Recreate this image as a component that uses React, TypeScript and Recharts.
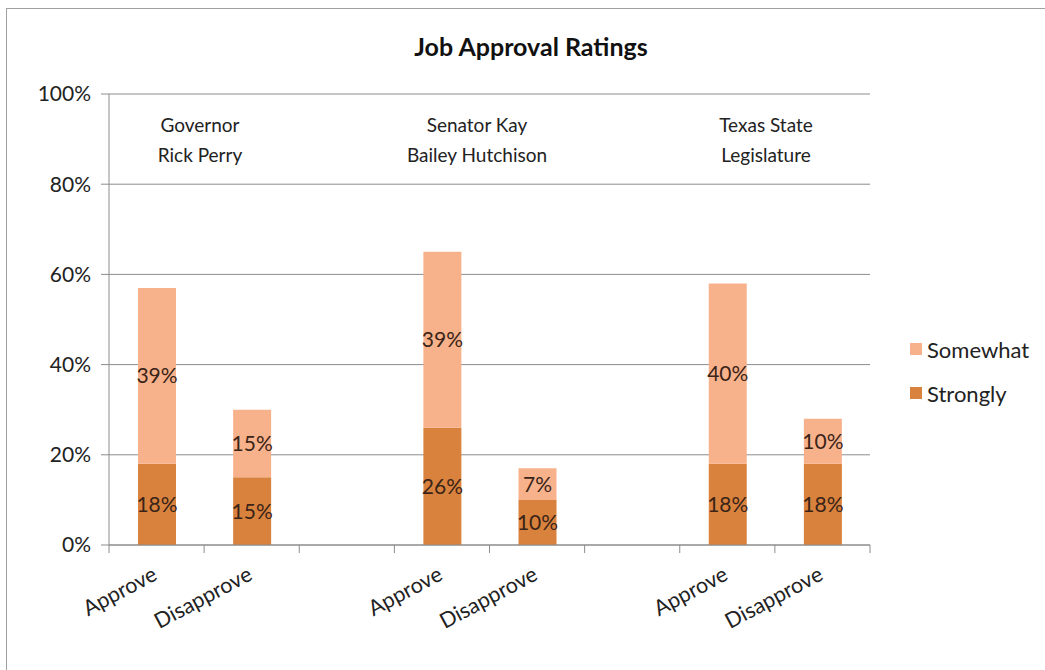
import React from 'react';
import { BarChart, Bar, XAxis, YAxis, CartesianGrid, LabelList } from 'recharts';

const categories = ['Approve', 'Disapprove', '', 'Approve', 'Disapprove', '', 'Approve', 'Disapprove'];
const strongly = [18, 15, null, 26, 10, null, 18, 18];
const somewhat = [39, 15, null, 39, 7, null, 40, 10];
const yTicks = [0, 20, 40, 60, 80, 100];
const groups = [
  { lines: ['Governor', 'Rick Perry'], x: 200 },
  { lines: ['Senator Kay', 'Bailey Hutchison'], x: 477 },
  { lines: ['Texas State', 'Legislature'], x: 766 },
];

const data = categories.map((name, i) => ({ name, strongly: strongly[i], somewhat: somewhat[i] }));

const FONT = 'Lato, "Open Sans", sans-serif';
const STRONG = '#D9823D';
const SOME = '#F8B28B';
const GRID = '#8c8c8c';

const pct = (v: any) => (v == null ? '' : `${v}%`);

// category label, plus a tick mark on the slot boundary (Excel style)
const RotTick = (props: any) => {
  const { x, y, payload, index, visibleTicksCount } = props;
  const half = 761 / (visibleTicksCount || 8) / 2;
  const tx = x + 2;
  const ty = y + 34;
  return (
    <g>
      {index === 0 && <line x1={x - half} x2={x - half} y1={y} y2={y + 8} stroke={GRID} />}
      <line x1={x + half} x2={x + half} y1={y} y2={y + 8} stroke={GRID} />
      {payload.value ? (
        <text x={tx} y={ty} textAnchor="end" fontSize={21.5} fill="#222" transform={`rotate(-28, ${tx}, ${ty})`}>
          {payload.value}
        </text>
      ) : null}
    </g>
  );
};

export default function App() {
  return (
    <div style={{ position: 'absolute', left: 0, top: 0, width: 1045, height: 670, overflow: 'hidden', background: '#fff', fontFamily: FONT }}>
      <div style={{ position: 'absolute', left: 6, top: 8, width: 1100, height: 720, border: '1px solid #a0a0a0' }} />
      <div style={{ position: 'absolute', left: 0, width: 1062, top: 31, textAlign: 'center', fontWeight: 700, fontSize: 25, color: '#111' }}>
        Job Approval Ratings
      </div>
      <div style={{ position: 'absolute', left: 0, top: 0 }}>
        <BarChart
          width={1045}
          height={670}
          data={data}
          margin={{ top: 94, right: 175, bottom: 25, left: 0 }}
          style={{ fontFamily: FONT }}
        >
          <CartesianGrid vertical={false} stroke={GRID} strokeDasharray="" />
          <XAxis
            dataKey="name"
            interval={0}
            tickSize={0}
            tickMargin={0}
            tickLine={false}
            axisLine={{ stroke: GRID }}
            tick={<RotTick />}
            height={100}
          />
          <YAxis
            domain={[0, 100]}
            ticks={yTicks}
            tickFormatter={(v) => `${v}%`}
            width={109}
            tickSize={8}
            tickLine={{ stroke: GRID }}
            axisLine={{ stroke: GRID }}
            tick={{ fontSize: 21, fill: '#222', dx: -8 }}
          />
          <Bar dataKey="strongly" stackId="a" fill={STRONG} barSize={38} isAnimationActive={false}>
            <LabelList dataKey="strongly" position="center" formatter={pct} fontSize={21} fill="#3a2418" />
          </Bar>
          <Bar dataKey="somewhat" stackId="a" fill={SOME} barSize={38} isAnimationActive={false}>
            <LabelList dataKey="somewhat" position="center" formatter={pct} fontSize={21} fill="#3a2418" />
          </Bar>
        </BarChart>
      </div>
      {groups.map((g) => (
        <div
          key={g.x}
          style={{ position: 'absolute', left: g.x - 100, width: 200, top: 110, textAlign: 'center', fontSize: 19, lineHeight: '30px', color: '#222' }}
        >
          {g.lines.map((l) => (
            <div key={l}>{l}</div>
          ))}
        </div>
      ))}
      <div style={{ position: 'absolute', left: 910, top: 334, fontSize: 22, color: '#222' }}>
        {[
          { label: 'Somewhat', color: SOME },
          { label: 'Strongly', color: STRONG },
        ].map((it) => (
          <div key={it.label} style={{ display: 'flex', alignItems: 'center', height: 30, marginBottom: 14 }}>
            <span style={{ display: 'inline-block', width: 12, height: 12, background: it.color, marginRight: 5 }} />
            <span>{it.label}</span>
          </div>
        ))}
      </div>
    </div>
  );
}
